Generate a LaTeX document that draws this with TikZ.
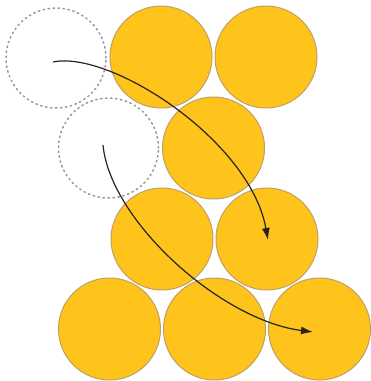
\documentclass[tikz,border=0pt]{standalone}
\usetikzlibrary{arrows.meta}
\definecolor{ballfill}{RGB}{254,196,28}
\definecolor{balledge}{RGB}{190,160,100}
\definecolor{ghost}{RGB}{150,150,155}
\definecolor{arrowc}{RGB}{40,35,30}
\tikzset{
  ball/.style={circle, minimum size=102pt, inner sep=0pt, fill=ballfill, draw=balledge, line width=1pt},
  ghostball/.style={circle, minimum size=100pt, inner sep=0pt, draw=ghost, line width=1.5pt, dash pattern=on 1.5pt off 3.5pt, line cap=round},
  path/.style={draw=arrowc, line width=1.2pt, -{Latex[length=12pt,width=8pt]}}
}
\begin{document}
\begin{tikzpicture}[x=1pt,y=-1pt]
\useasboundingbox (0,0) rectangle (371,381);
% ghost (moving) positions
\node[ghostball] (g1) at (56,58) {};
\node[ghostball] (g2) at (108.5,148) {};
% row 1
\node[ball] (a1) at (161,57) {};
\node[ball] (a2) at (266,57) {};
% row 2
\node[ball] (b1) at (213.5,148) {};
% row 3
\node[ball] (c1) at (162,239) {};
\node[ball] (c2) at (267,239) {};
% row 4
\node[ball] (d1) at (109.5,329) {};
\node[ball] (d2) at (214.5,329) {};
\node[ball] (d3) at (319.5,329) {};
% arrow anchors
\coordinate (s1) at (53,62);
\coordinate (e1) at (268,240);
\coordinate (s2) at (103,145);
\coordinate (e2) at (313,332);
\draw[path] (s1) .. controls (110,50) and (250,140) .. (e1);
\draw[path] (s2) .. controls (110,220) and (220,320) .. (e2);
\end{tikzpicture}
\end{document}
